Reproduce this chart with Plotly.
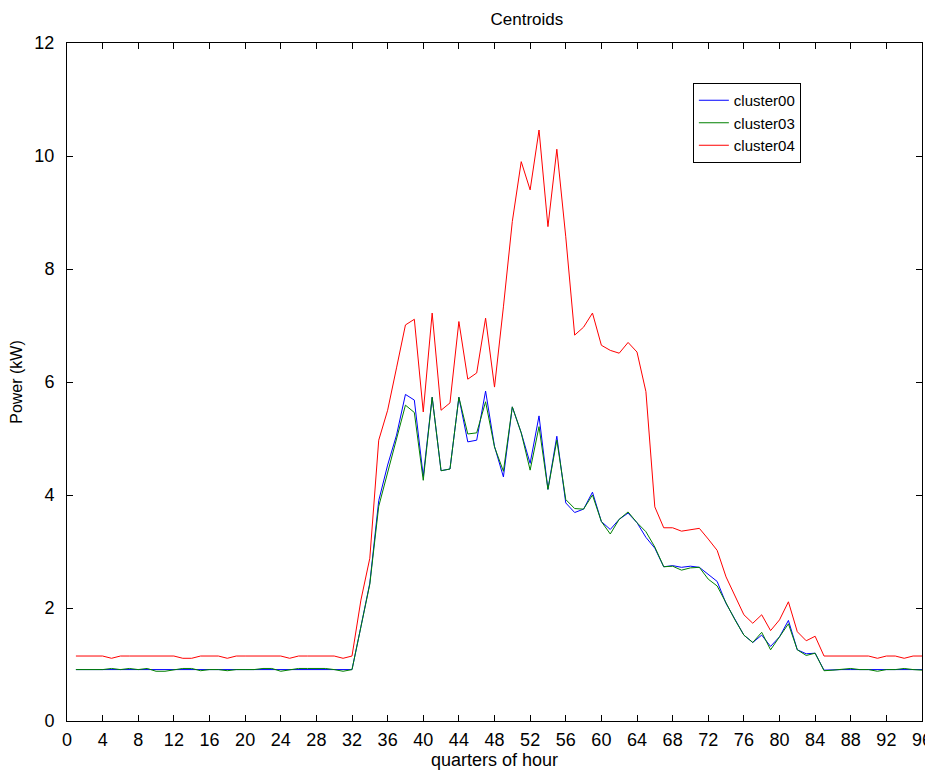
import plotly.graph_objects as go

quarters = list(range(1, 97))

cluster00 = [0.91]*30 + [0.90, 0.91] + [
    1.67, 2.44, 3.90, 4.53, 5.06, 5.78, 5.68, 4.33, 5.73, 4.43,
    4.46, 5.73, 4.94, 4.97, 5.84, 4.86, 4.32, 5.56, 5.10, 4.56,
    5.40, 4.10, 5.04, 3.86, 3.69, 3.75, 4.05, 3.53, 3.39, 3.57,
    3.68, 3.51, 3.25, 3.06, 2.73, 2.75, 2.72, 2.74, 2.72, 2.59,
    2.47, 2.08, 1.79, 1.52, 1.39, 1.52, 1.32, 1.49, 1.78, 1.26,
    1.19, 1.20, 0.90] + [0.91]*11

cluster03 = [
    0.91, 0.91, 0.91, 0.91, 0.93, 0.91, 0.93, 0.91, 0.93, 0.88,
    0.88, 0.91, 0.93, 0.93, 0.89, 0.91, 0.91, 0.89, 0.91, 0.91,
    0.91, 0.93, 0.93, 0.88, 0.91, 0.93, 0.93, 0.93, 0.93, 0.91,
    0.88, 0.91,
    1.66, 2.42, 3.80, 4.39, 4.97, 5.59, 5.46, 4.26, 5.73, 4.43,
    4.46, 5.73, 5.08, 5.10, 5.65, 4.85, 4.42, 5.56, 5.10, 4.44,
    5.21, 4.10, 4.97, 3.92, 3.76, 3.75, 4.00, 3.53, 3.31, 3.57,
    3.70, 3.51, 3.35, 3.08, 2.73, 2.74, 2.67, 2.71, 2.72, 2.51,
    2.39, 2.08, 1.79, 1.52, 1.39, 1.57, 1.26, 1.49, 1.72, 1.26,
    1.16, 1.20, 0.89, 0.90, 0.91, 0.93, 0.91, 0.91, 0.88, 0.91,
    0.91, 0.93, 0.91, 0.90]

cluster04 = [
    1.15, 1.15, 1.15, 1.15, 1.11, 1.15, 1.15, 1.15, 1.15, 1.15,
    1.15, 1.15, 1.11, 1.11, 1.15, 1.15, 1.15, 1.11, 1.15, 1.15,
    1.15, 1.15, 1.15, 1.15, 1.11, 1.15, 1.15, 1.15, 1.15, 1.15,
    1.11, 1.15,
    2.14, 2.88, 4.97, 5.50, 6.25, 7.01, 7.11, 5.47, 7.22, 5.50,
    5.63, 7.07, 6.05, 6.16, 7.13, 5.91, 7.33, 8.84, 9.90, 9.40,
    10.46, 8.75, 10.12, 8.57, 6.83, 6.97, 7.22, 6.65, 6.56, 6.51,
    6.70, 6.53, 5.83, 3.79, 3.42, 3.42, 3.36, 3.39, 3.41, 3.22,
    3.02, 2.55, 2.23, 1.88, 1.73, 1.88, 1.60, 1.79, 2.11, 1.58,
    1.42, 1.50, 1.15, 1.15, 1.15, 1.15, 1.15, 1.15, 1.11, 1.15,
    1.15, 1.11, 1.15, 1.15]

x_ticks = list(range(0, 97, 4))
y_ticks = list(range(0, 13, 2))

series = [("cluster00", cluster00, "#0000ff"),
          ("cluster03", cluster03, "#008000"),
          ("cluster04", cluster04, "#ff0000")]

fig = go.Figure()
for name, vals, col in series:
    fig.add_trace(go.Scatter(x=quarters, y=vals, mode="lines", name=name,
                             line=dict(color=col, width=1)))

font_family = "Liberation Sans, Arial, sans-serif"
axis_common = dict(showgrid=False, zeroline=False, showline=True,
                   linecolor="black", linewidth=1, mirror="ticks",
                   ticks="inside", ticklen=6, tickcolor="black",
                   automargin=False,
                   tickfont=dict(family=font_family, size=18, color="black"))

# the page body adds an 8px offset; compensate in size/margins
fig.update_layout(
    width=925, height=763,
    margin=dict(l=59, r=11, t=35, b=50),
    paper_bgcolor="white", plot_bgcolor="white",
    title=dict(text="Centroids", x=0.561, xanchor="center", y=0.985,
               yanchor="middle",
               font=dict(family=font_family, size=17, color="black")),
    xaxis=dict(range=[0, 96], tickvals=x_ticks,
               ticktext=[str(v) for v in x_ticks],
               ticklabelstandoff=2,
               title=dict(text="quarters of hour", standoff=4,
                          font=dict(family=font_family, size=18, color="black")),
               **axis_common),
    yaxis=dict(range=[0, 12], tickvals=y_ticks,
               ticktext=[str(v) for v in y_ticks],
               ticklabelstandoff=8,
               title=dict(text="Power (kW)", standoff=14,
                          font=dict(family=font_family, size=16, color="black")),
               **axis_common),
    legend=dict(x=0.732, y=0.941, xanchor="left", yanchor="top",
                bgcolor="white", bordercolor="black", borderwidth=1,
                font=dict(family=font_family, size=15, color="black"),
                tracegroupgap=0, itemwidth=30),
    showlegend=True,
)

fig.write_html("out.html")
